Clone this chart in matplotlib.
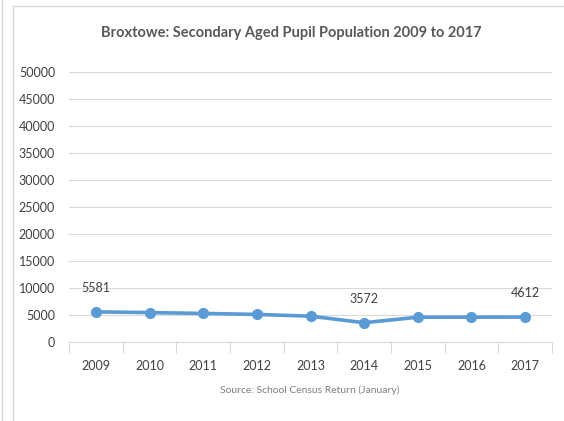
import matplotlib.pyplot as plt
from matplotlib.patches import Rectangle

years = ["2009", "2010", "2011", "2012", "2013", "2014", "2015", "2016", "2017"]
pupils = [5581, 5450, 5290, 5110, 4780, 3572, 4590, 4600, 4612]
labelled = {0: "5581", 5: "3572", 8: "4612"}

W, H = 564, 421
fig = plt.figure(figsize=(W / 100, H / 100), dpi=100)
plt.rcParams['font.family'] = ['Lato', 'DejaVu Sans']

# outer chart frame
fig.patches.append(Rectangle((13 / W, -0.1), 1.2, (H - 6) / H + 0.1, transform=fig.transFigure,
                             fill=False, edgecolor='#d9d9d9', linewidth=1))
fig.patches.append(Rectangle((1.5 / W, 0), 0.0, 1, transform=fig.transFigure,
                             fill=False, edgecolor='#d9d9d9', linewidth=1))

ax = fig.add_axes([69 / W, 1 - 342 / H, (552 - 69) / W, (342 - 72) / H])
x = list(range(len(years)))
ax.plot(x, pupils, color='#5b9bd5', linewidth=2.6, marker='o', markersize=7,
        solid_capstyle='round')
for i, txt in labelled.items():
    ax.annotate(txt, (x[i], pupils[i]), xytext=(0, 13), textcoords='offset points',
                ha='center', va='bottom', fontsize=9, color='#404040')

ax.set_xlim(-0.5, len(years) - 0.5)
ax.set_ylim(0, 50000)
ax.set_yticks(range(0, 50001, 5000))
ax.set_yticklabels([str(v) for v in range(0, 50001, 5000)])
ax.grid(axis='y', color='#d9d9d9', linewidth=0.8)
ax.set_axisbelow(True)
for s in ['top', 'right', 'left']:
    ax.spines[s].set_visible(False)
ax.spines['bottom'].set_color('#d9d9d9')

ax.set_xticks([i - 0.5 for i in range(len(years) + 1)], minor=False)
ax.set_xticklabels([])
ax.set_xticks(x, minor=True)
ax.set_xticklabels(years, minor=True)
ax.tick_params(axis='x', which='major', length=8, color='#d9d9d9', width=0.8)
ax.tick_params(axis='x', which='minor', length=0, pad=13, labelsize=9, labelcolor='#404040')
ax.tick_params(axis='y', length=0, pad=10, labelsize=9, labelcolor='#404040')

fig.text(291 / W, 1 - 33 / H, "Broxtowe: Secondary Aged Pupil Population 2009 to 2017",
         ha='center', va='center', fontsize=10.5, fontweight='bold', color='#595959')
fig.text(310 / W, 1 - 390 / H, "Source: School Census Return (January)",
         ha='center', va='center', fontsize=7.5, color='#7f7f7f')

fig.savefig("out.png", dpi=100)
